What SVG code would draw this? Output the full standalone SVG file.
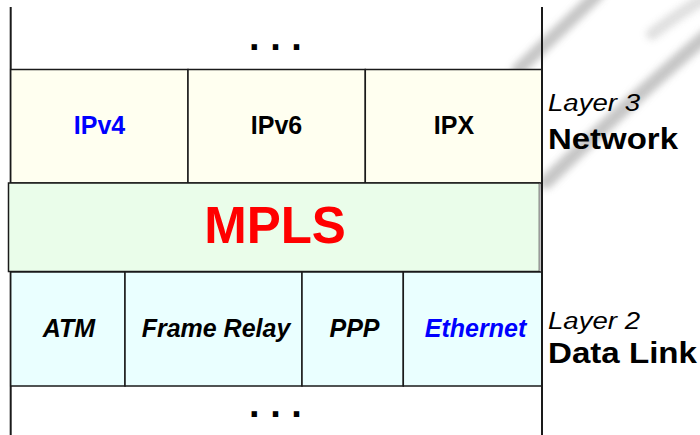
<svg xmlns="http://www.w3.org/2000/svg" width="700" height="435" viewBox="0 0 700 435">
  <style>
    .lbl { font-family: "Liberation Sans", Arial, sans-serif; font-weight: bold; text-anchor: middle; }
    .l2 { font-style: italic; font-size: 25px; }
    .l3 { font-size: 25px; }
    .ink { fill: #000; }
    .blue { fill: #0000ff; }
    .dots { font-family: "Liberation Sans", Arial, sans-serif; font-weight: bold; font-size: 38px; text-anchor: middle; fill: #000; }
    .side { font-family: "Liberation Sans", Arial, sans-serif; fill: #000; }
    .cell3 { fill: #fffff0; stroke: #1a1a1a; stroke-width: 1.5; }
    .cell2 { fill: #eaffff; stroke: #1a1a1a; stroke-width: 1.5; }
    .frame { stroke: #1a1a1a; stroke-width: 2; fill: none; }
    .swoosh { fill: none; stroke: #b8b8b8; stroke-linecap: round; filter: url(#soft); }
  </style>
  <defs>
    <filter id="soft" x="-50%" y="-50%" width="200%" height="200%">
      <feGaussianBlur stdDeviation="3.5"/>
    </filter>
  </defs>

  <rect width="700" height="435" fill="#ffffff"/>

  <!-- faint background swooshes -->
  <g id="background" opacity="0.8">
    <path class="swoosh" d="M518,70 Q556,34 598,-6" stroke-width="13"/>
    <path class="swoosh" d="M546,182 Q618,112 706,36" stroke-width="14"/>
    <path class="swoosh" d="M652,34 Q678,14 708,-4" stroke-width="12" opacity="0.55"/>
  </g>

  <!-- outer stack boundaries -->
  <g id="connectors">
    <line class="frame" x1="10.7" y1="7" x2="10.7" y2="435"/>
  </g>

  <!-- layer 3 protocols -->
  <g id="ipv4">
    <rect class="cell3" x="10.7" y="69.5" width="177.3" height="113.5"/>
    <text class="lbl l3 blue" x="99.5" y="134">IPv4</text>
  </g>
  <g id="ipv6">
    <rect class="cell3" x="188" y="69.5" width="177.3" height="113.5"/>
    <text class="lbl l3 ink" x="276.5" y="134">IPv6</text>
  </g>
  <g id="ipx">
    <rect class="cell3" x="365.3" y="69.5" width="176.7" height="113.5"/>
    <text class="lbl l3 ink" x="454" y="134">IPX</text>
  </g>

  <!-- MPLS layer -->
  <g id="mpls">
    <rect x="8.5" y="183" width="531" height="88.5" fill="#eafdea" stroke="#1a1a1a" stroke-width="1.5"/>
    <line x1="539.5" y1="183.5" x2="539.5" y2="271" stroke="#9a9a9a" stroke-width="1"/>
    <text class="lbl" x="275" y="243" font-size="51" fill="#ff0000">MPLS</text>
  </g>

  <!-- layer 2 protocols -->
  <g id="atm">
    <rect class="cell2" x="10.7" y="272" width="114.3" height="114"/>
    <text class="lbl l2 ink" x="69" y="337">ATM</text>
  </g>
  <g id="frame-relay">
    <rect class="cell2" x="125" y="272" width="177" height="114"/>
    <text class="lbl l2 ink" x="216" y="337">Frame Relay</text>
  </g>
  <g id="ppp">
    <rect class="cell2" x="302" y="272" width="101.3" height="114"/>
    <text class="lbl l2 ink" x="354.5" y="337">PPP</text>
  </g>
  <g id="ethernet">
    <rect class="cell2" x="403.3" y="272" width="138.7" height="114"/>
    <text class="lbl l2 blue" x="475.5" y="337">Ethernet</text>
  </g>

  <!-- right boundary drawn over the stack -->
  <g id="right-edge">
    <line class="frame" x1="542" y1="7" x2="542" y2="435"/>
  </g>

  <!-- continuation marks above and below -->
  <g id="more-above">
    <text class="dots" x="275.5" y="50">. . .</text>
  </g>
  <g id="more-below">
    <text class="dots" x="275.5" y="417">. . .</text>
  </g>

  <!-- layer captions -->
  <g id="layer3-caption">
    <text class="side" x="548" y="110.5" font-size="23" font-style="italic" textLength="92" lengthAdjust="spacingAndGlyphs">Layer 3</text>
    <text class="side" x="548" y="148.5" font-size="30" font-weight="bold" textLength="130" lengthAdjust="spacingAndGlyphs">Network</text>
  </g>
  <g id="layer2-caption">
    <text class="side" x="548" y="328.5" font-size="23" font-style="italic" textLength="92" lengthAdjust="spacingAndGlyphs">Layer 2</text>
    <text class="side" x="548" y="362.5" font-size="30" font-weight="bold" textLength="149" lengthAdjust="spacingAndGlyphs">Data Link</text>
  </g>
</svg>
